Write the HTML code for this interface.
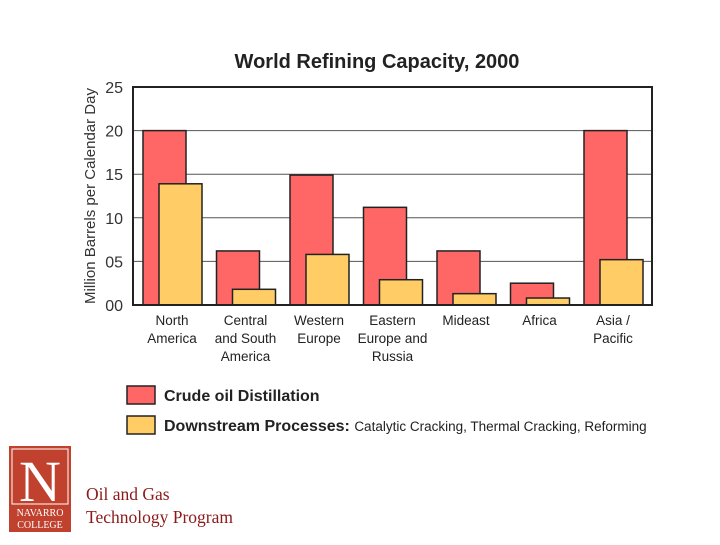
<!DOCTYPE html>
<html><head><meta charset="utf-8"><style>
body{margin:0;background:#fff;width:720px;height:540px;overflow:hidden;font-family:"Liberation Sans",sans-serif}
svg text{font-family:"Liberation Sans",sans-serif}
</style></head><body>
<svg id="chart" width="720" height="540">
<text x="377" y="68" text-anchor="middle" font-size="20" font-weight="bold" fill="#222">World Refining Capacity, 2000</text>
<text transform="translate(95,196) rotate(-90)" text-anchor="middle" font-size="15" fill="#333">Million Barrels per Calendar Day</text>
<g id="grid"></g><g id="bars"></g><g id="xlabels"></g>
<rect x="133" y="87" width="519" height="218" fill="none" stroke="#222" stroke-width="2"/>
<rect x="127" y="386" width="28" height="18" fill="#ff6666" stroke="#222" stroke-width="1.5"/>
<text x="164" y="401" font-size="16" font-weight="bold" fill="#222">Crude oil Distillation</text>
<rect x="127" y="416" width="28" height="18" fill="#ffcc66" stroke="#222" stroke-width="1.5"/>
<text x="164" y="431" font-size="16" font-weight="bold" fill="#222">Downstream Processes: <tspan font-size="13.5" font-weight="normal">Catalytic Cracking, Thermal Cracking, Reforming</tspan></text>
<g>
<rect x="9" y="446" width="62" height="86" fill="#c0412e"/>
<rect x="12" y="449" width="56" height="55" fill="none" stroke="#fff" stroke-width="1"/>
<text x="40" y="501" text-anchor="middle" font-size="58" fill="#fff" style="font-family:'Liberation Serif',serif">N</text>
<text x="40" y="516" text-anchor="middle" font-size="10" fill="#fff" style="font-family:'Liberation Serif',serif">NAVARRO</text>
<text x="40" y="528" text-anchor="middle" font-size="10" fill="#fff" style="font-family:'Liberation Serif',serif">COLLEGE</text>
</g>
<text x="86" y="500" font-size="17.5" fill="#8b1a1a" style="font-family:'Liberation Serif',serif">Oil and Gas</text>
<text x="86" y="523" font-size="17.5" fill="#8b1a1a" style="font-family:'Liberation Serif',serif">Technology Program</text>
</svg>
<script>
const categories=[["North","America"],["Central","and South","America"],["Western","Europe"],["Eastern","Europe and","Russia"],["Mideast"],["Africa"],["Asia /","Pacific"]];
const crude=[20,6.2,14.9,11.2,6.2,2.5,20];
const downstream=[13.9,1.8,5.8,2.9,1.3,0.8,5.2];
const ticks=[0,5,10,15,20,25];
const tickLabels=["00","05","10","15","20","25"];
const ns="http://www.w3.org/2000/svg";
const y0=305,y1=87,vmax=25;
function y(v){return y0-(v/vmax)*(y0-y1);}
function xc(i){return 143+i*73.5;}
function mk(t,a,p){const e=document.createElementNS(ns,t);for(const k in a)e.setAttribute(k,a[k]);p.appendChild(e);return e;}
const grid=document.getElementById('grid'),bars=document.getElementById('bars'),xl=document.getElementById('xlabels');
ticks.forEach((t,i)=>{
 if(t>0&&t<25){const l=mk('line',{x1:133,x2:652,y1:y(t),y2:y(t),stroke:'#555','stroke-width':1},grid);
 
 }
 const tx=mk('text',{x:123,y:y(t)+6,'text-anchor':'end','font-size':16,fill:'#333'},grid);tx.textContent=tickLabels[i];
 
 
});
categories.forEach((c,i)=>{
 const x=xc(i);
 const r1=mk('rect',{x:x,y:y(crude[i]),width:43,height:y0-y(crude[i]),fill:'#ff6666',stroke:'#222','stroke-width':1.5},bars);
 
 
 const r2=mk('rect',{x:x+16,y:y(downstream[i]),width:43,height:y0-y(downstream[i]),fill:'#ffcc66',stroke:'#222','stroke-width':1.5},bars);
 
 
 c.forEach((line,j)=>{const t=mk('text',{x:x+29,y:325+j*18,'text-anchor':'middle','font-size':13.5,fill:'#222'},xl);t.textContent=line;
 
 });
});
</script>
</body></html>
